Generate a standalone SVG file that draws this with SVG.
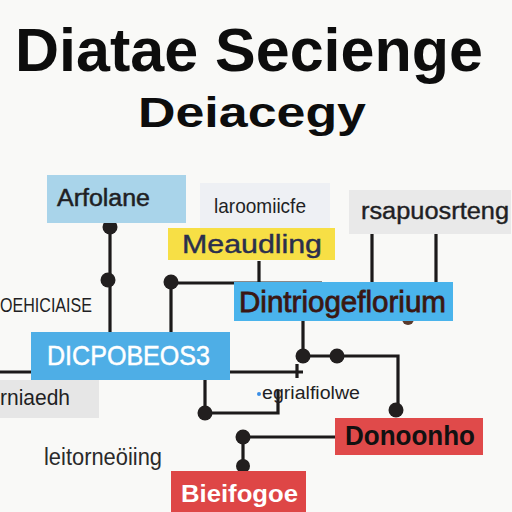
<svg xmlns="http://www.w3.org/2000/svg" width="512" height="512" viewBox="0 0 512 512">
<style>
text{font-family:"Liberation Sans",Arial,sans-serif}
.ln{stroke:#1c1a1a;stroke-width:3.2;fill:none}
.dot{fill:#221f1f}
.lbl{fill:#1f1f24}
.th{stroke-width:0.5;stroke:currentColor}
</style>
<rect width="512" height="512" fill="#f9f9f7"/>
<g id="title">
<text x="249" y="71" font-size="61" font-weight="bold" text-anchor="middle" fill="#0d0d0d">Diatae Secienge</text>
<text x="138" y="127" font-size="43" font-weight="bold" textLength="228" lengthAdjust="spacingAndGlyphs" fill="#0d0d0d">Deiacegy</text>
</g>
<g id="connectors">
<path class="ln" d="M110 227V332"/>
<path class="ln" d="M171 282V332M171 283H322"/>
<path class="ln" d="M259 261V282"/>
<path class="ln" d="M372 234V282M436 234V282"/>
<path class="ln" d="M303 320V356H398V410"/>
<path class="ln" d="M0 372H303M297 364V378"/>
<path class="ln" d="M205 372V413H278V390"/>
<path class="ln" d="M243 437H335M243 437V468"/>
<circle class="dot" cx="110" cy="227" r="7.5"/>
<circle class="dot" cx="108" cy="280" r="7.5"/>
<circle class="dot" cx="171" cy="282" r="7.5"/>
<circle class="dot" cx="303" cy="356" r="7.5"/>
<circle class="dot" cx="337" cy="356" r="7.5"/>
<circle class="dot" cx="396" cy="410" r="7.5"/>
<circle class="dot" cx="205" cy="413" r="7.5"/>
<circle class="dot" cx="243" cy="437" r="7.5"/>
<circle class="dot" cx="243" cy="466" r="7"/>
<circle cx="408" cy="319" r="6" fill="#5a3a2c"/>
</g>
<g id="n-arfolane">
<rect x="47" y="175" width="139" height="48" fill="#a9d4ea"/>
<text class="lbl" x="57" y="206" font-size="23" textLength="93" lengthAdjust="spacingAndGlyphs" stroke="#1f1f24" stroke-width="0.5">Arfolane</text>
</g>
<g id="n-laroom">
<rect x="200" y="183" width="130" height="46" fill="#eef0f4"/>
<text class="lbl" x="214" y="213" font-size="21" textLength="92" lengthAdjust="spacingAndGlyphs">laroomiicfe</text>
</g>
<g id="n-meaudling">
<rect x="168" y="228" width="167" height="32" fill="#f7df45"/>
<text x="182" y="253" font-size="25" textLength="140" lengthAdjust="spacingAndGlyphs" fill="#2b2f4d" stroke="#2b2f4d" stroke-width="0.4">Meaudling</text>
</g>
<g id="n-rsapu">
<rect x="349" y="190" width="162" height="44" fill="#e9e9e9"/>
<text class="lbl" x="361" y="219" font-size="23" textLength="148" lengthAdjust="spacingAndGlyphs" stroke="#1f1f24" stroke-width="0.4">rsapuosrteng</text>
</g>
<g id="n-dintrio">
<rect x="234" y="282" width="219" height="39" fill="#4ab4ec"/>
<text x="239" y="312" font-size="30" textLength="207" lengthAdjust="spacingAndGlyphs" fill="#3a1712" stroke="#3a1712" stroke-width="0.8">Dintriogeflorium</text>
</g>
<g id="n-oehic">
<text class="lbl" x="0" y="312" font-size="20" textLength="92" lengthAdjust="spacingAndGlyphs">OEHICIAISE</text>
</g>
<g id="n-dicpo">
<rect x="31" y="332" width="199" height="48" fill="#4eaee6"/>
<text x="47" y="365" font-size="28" textLength="163" lengthAdjust="spacingAndGlyphs" fill="#ffffff" stroke="#ffffff" stroke-width="0.5">DICPOBEOS3</text>
</g>
<g id="n-rniaedh">
<rect x="0" y="380" width="99" height="38" fill="#e6e6e6"/>
<text class="lbl" x="0" y="405" font-size="22" textLength="70" lengthAdjust="spacingAndGlyphs">rniaedh</text>
</g>
<g id="n-egrial">
<circle cx="259" cy="394" r="2" fill="#3a8ee6"/>
<text class="lbl" x="262" y="399" font-size="18" textLength="98" lengthAdjust="spacingAndGlyphs">egrialfiolwe</text>
</g>
<g id="n-leitor">
<text x="44" y="465" font-size="23" textLength="118" lengthAdjust="spacingAndGlyphs" fill="#2a2a2a">leitorneöiing</text>
</g>
<g id="n-donoonho">
<rect x="335" y="418" width="148" height="37" fill="#e04a4a"/>
<text x="345" y="445" font-size="28" font-weight="bold" textLength="130" lengthAdjust="spacingAndGlyphs" fill="#111">Donoonho</text>
</g>
<g id="n-bieifo">
<rect x="171" y="471" width="135" height="41" fill="#de4646"/>
<text x="181" y="502" font-size="24" font-weight="bold" textLength="117" lengthAdjust="spacingAndGlyphs" fill="#ffffff">Bieifogoe</text>
</g>
</svg>
